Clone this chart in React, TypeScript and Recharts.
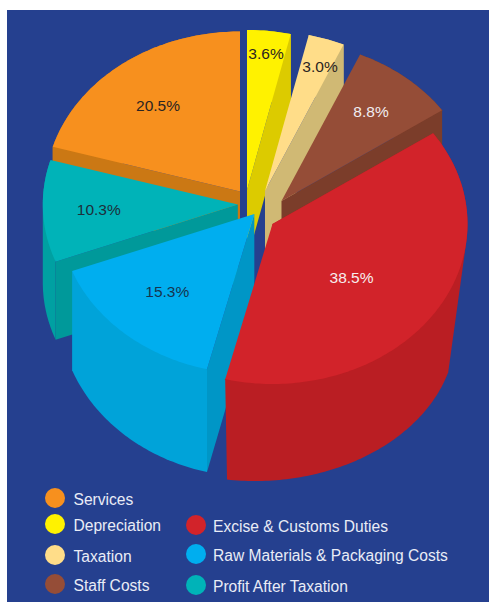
import React from 'react';
import { PieChart, Pie } from 'recharts';

const categories = [
  'Services',
  'Depreciation',
  'Taxation',
  'Staff Costs',
  'Excise & Customs Duties',
  'Raw Materials & Packaging Costs',
  'Profit After Taxation',
];
const shares = [20.5, 3.6, 3.0, 8.8, 38.5, 15.3, 10.3];

const rows = categories.map((name, i) => ({ name, value: shares[i] }));

// back to front, SVG has no z-order
const paintOrder = [
  'Services',
  'Depreciation',
  'Taxation',
  'Staff Costs',
  'Profit After Taxation',
  'Raw Materials & Packaging Costs',
  'Excise & Customs Duties',
];

const CX = 260;
const CY = 210;
const RADIUS = 195;
const SQUASH = 160 / 195;

type Look = {
  top: string;
  outer: string;
  side: string;
  sideAt: 'start' | 'end';
  dx: number; // explode offset of the top face
  dy: number;
  bx: number; // floor ellipse centre, relative to the top face
  by: number;
  brx: number;
  bry: number;
  floorT?: [number, number]; // floor arc range when it differs from the slice's own
  lx: number; // label offset from the apex
  ly: number;
  text: string;
};

const looks: Record<string, Look> = {
  Services: { top: '#F7901E', outer: '#CB7814', side: '#CB7814', sideAt: 'start', dx: -20, dy: -18.5, bx: 0, by: 60, brx: 195, bry: 160, lx: -82, ly: -86.5, text: '#2B2422' },
  Depreciation: { top: '#FFF200', outer: '#DCCB00', side: '#DCCB00', sideAt: 'end', dx: -13, dy: -20, bx: 0, by: 70, brx: 195, bry: 160, lx: 19, ly: -137, text: '#2B2422' },
  Taxation: { top: '#FFDD89', outer: '#D0B974', side: '#D0B974', sideAt: 'end', dx: 5, dy: -19, bx: 0, by: 60, brx: 195, bry: 160, lx: 55, ly: -125, text: '#2B2422' },
  'Staff Costs': { top: '#954D37', outer: '#7B3D2A', side: '#7B3D2A', sideAt: 'end', dx: 21.5, dy: -9, bx: 0, by: 60, brx: 195, bry: 160, lx: 89.5, ly: -90, text: '#F1EEF0' },
  'Excise & Customs Duties': { top: '#D2232A', outer: '#BA1E23', side: '#BA1E23', sideAt: 'start', dx: 12.5, dy: 14, bx: -17.5, by: 107, brx: 201, bry: 150, floorT: [106, 188], lx: 79, ly: 53, text: '#F7EEEE' },
  'Raw Materials & Packaging Costs': { top: '#00AEEF', outer: '#00A3D9', side: '#0096C6', sideAt: 'start', dx: -5.7, dy: 4, bx: 0, by: 97, brx: 195, bry: 166, lx: -87, ly: 77, text: '#16354F' },
  'Profit After Taxation': { top: '#00B3B8', outer: '#00A0A2', side: '#00999A', sideAt: 'start', dx: -22.2, dy: -5.4, bx: 0, by: 78, brx: 195, bry: 160, lx: -139, ly: 5, text: '#1D2F3A' },
};

const legendLeft = ['Services', 'Depreciation', 'Taxation', 'Staff Costs'];
const legendRight = ['Excise & Customs Duties', 'Raw Materials & Packaging Costs', 'Profit After Taxation'];
const legendLeftY = [498, 524, 555, 584];
const legendRightY = [525, 554, 585];

type Pt = [number, number];

function onEllipse(x: number, y: number, rx: number, ry: number, t: number): Pt {
  const a = (t * Math.PI) / 180;
  return [x + rx * Math.sin(a), y - ry * Math.cos(a)];
}

function arcPoints(x: number, y: number, rx: number, ry: number, t0: number, t1: number): Pt[] {
  const pts: Pt[] = [];
  const steps = Math.max(2, Math.ceil(Math.abs(t1 - t0)));
  for (let i = 0; i <= steps; i++) pts.push(onEllipse(x, y, rx, ry, t0 + ((t1 - t0) * i) / steps));
  return pts;
}

function hull(input: Pt[]): Pt[] {
  const pts = [...input].sort((a, b) => a[0] - b[0] || a[1] - b[1]);
  const cross = (o: Pt, a: Pt, b: Pt) => (a[0] - o[0]) * (b[1] - o[1]) - (a[1] - o[1]) * (b[0] - o[0]);
  const walk = (list: Pt[]) => {
    const out: Pt[] = [];
    for (const p of list) {
      while (out.length > 1 && cross(out[out.length - 2], out[out.length - 1], p) <= 0) out.pop();
      out.push(p);
    }
    out.pop();
    return out;
  };
  return [...walk(pts), ...walk([...pts].reverse())];
}

const toPath = (pts: Pt[]) => 'M' + pts.map((p) => `${p[0].toFixed(2)},${p[1].toFixed(2)}`).join('L') + 'Z';

function makeSlice(layer: string) {
  return function Slice(props: any) {
    const name = props.name ?? props.payload?.name;
    if (name !== layer) return null;
    const look = looks[layer];
    const x = props.cx + look.dx;
    const y = props.cy + look.dy;
    const rx = props.outerRadius;
    const ry = rx * SQUASH;
    // recharts angles run counter-clockwise from 3 o'clock
    const t0 = 90 - props.startAngle;
    const t1 = 90 - props.endAngle;
    const bx = x + look.bx;
    const by = y + look.by;
    const topArc = arcPoints(x, y, rx, ry, t0, t1);
    const [f0, f1] = look.floorT ?? [t0, t1];
    const floorArc = arcPoints(bx, by, look.brx, look.bry, f0, f1);
    const sideT = look.sideAt === 'start' ? t0 : t1;
    const sideQuad: Pt[] = [[x, y], onEllipse(x, y, rx, ry, sideT), onEllipse(bx, by, look.brx, look.bry, sideT), [bx, by]];
    return (
      <g>
        <path d={toPath(hull([...topArc, ...floorArc]))} fill={look.outer} />
        <path d={toPath(sideQuad)} fill={look.side} />
        <path d={toPath([[x, y], ...topArc])} fill={look.top} />
      </g>
    );
  };
}

function sliceLabel(props: any) {
  const look = looks[props.name ?? props.payload?.name];
  if (!look) return null;
  return (
    <text
      x={props.cx + look.dx + look.lx}
      y={props.cy + look.dy + look.ly}
      fill={look.text}
      fontSize={15.5}
      fontFamily="'Liberation Sans', Arial, sans-serif"
      textAnchor="middle"
      dominantBaseline="central"
    >
      {`${Number(props.value).toFixed(1)}%`}
    </text>
  );
}

function LegendItem({ name, left, textLeft, y }: { name: string; left: number; textLeft: number; y: number }) {
  return (
    <>
      <div
        style={{
          position: 'absolute',
          left: left - 10,
          top: y - 10,
          width: 20,
          height: 20,
          borderRadius: '50%',
          background: looks[name].top,
        }}
      />
      <div
        style={{
          position: 'absolute',
          left: textLeft,
          top: y - 8.5,
          lineHeight: '20px',
          fontSize: 15.6,
          color: '#E9ECF6',
          whiteSpace: 'nowrap',
        }}
      >
        {name}
      </div>
    </>
  );
}

export default function App() {
  return (
    <div
      style={{
        position: 'absolute',
        left: 0,
        top: 0,
        width: 489,
        height: 602,
        overflow: 'hidden',
        fontFamily: "'Liberation Sans', Arial, sans-serif",
      }}
    >
      <div style={{ position: 'absolute', left: 7, top: 10, right: 0, bottom: 0, background: '#25408F' }} />
      <div style={{ position: 'absolute', left: 0, top: 0 }}>
        <PieChart width={489} height={602} margin={{ top: 0, right: 0, bottom: 0, left: 0 }}>
          {paintOrder.map((layer) => (
            <Pie
              key={layer}
              data={rows}
              dataKey="value"
              nameKey="name"
              cx={CX}
              cy={CY}
              outerRadius={RADIUS}
              startAngle={163.8}
              endAngle={-196.2}
              stroke="none"
              shape={makeSlice(layer)}
              isAnimationActive={false}
            />
          ))}
          <Pie
            data={rows}
            dataKey="value"
            nameKey="name"
            cx={CX}
            cy={CY}
            outerRadius={RADIUS}
            startAngle={163.8}
            endAngle={-196.2}
            stroke="none"
            fill="none"
            shape={() => null}
            label={sliceLabel}
            labelLine={false}
            isAnimationActive={false}
          />
        </PieChart>
      </div>
      {legendLeft.map((name, i) => (
        <LegendItem key={name} name={name} left={55} textLeft={73.5} y={legendLeftY[i]} />
      ))}
      {legendRight.map((name, i) => (
        <LegendItem key={name} name={name} left={196} textLeft={213} y={legendRightY[i]} />
      ))}
    </div>
  );
}
